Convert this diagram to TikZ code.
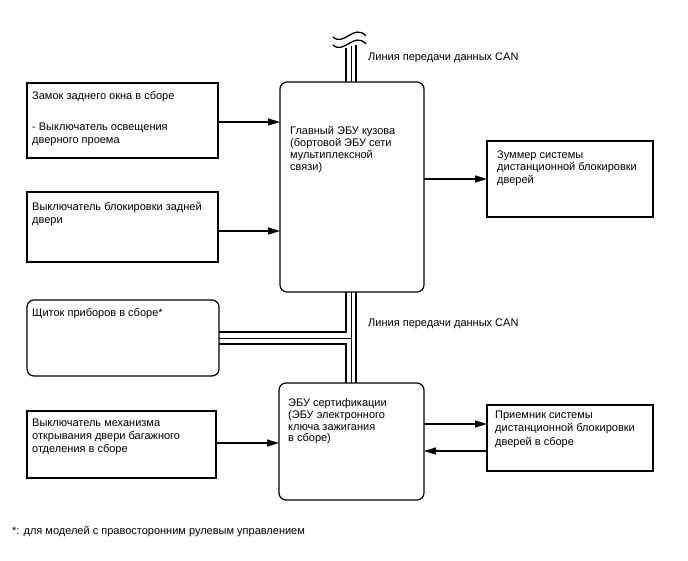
\documentclass[tikz,border=0pt]{standalone}
\usepackage{fontspec}
\setmainfont{Liberation Sans}
\usetikzlibrary{arrows.meta,calc}
\begin{document}
\begin{tikzpicture}[x=1pt,y=-1pt,
  box/.style={draw, line width=1.2pt, anchor=north west, inner sep=0pt, outer sep=0pt},
  rbox/.style={box, rounded corners=7pt},
  txt/.style={anchor=north west, inner sep=0pt, align=left, font=\fontsize{11}{12.6}\selectfont},
  arr/.style={line width=1.1pt, -{Triangle[length=12pt,width=7pt]}},
  tb/.style={line width=2.6pt},
  tn/.style={line width=1pt},
  wave/.style={line width=1.3pt}]
\useasboundingbox (0,0) rectangle (688,560);

% boxes
\node[box, minimum width=191pt, minimum height=75pt] (b1) at (27,83) {};
\node[box, minimum width=191pt, minimum height=70pt] (b2) at (27,192) {};
\node[rbox, minimum width=192pt, minimum height=76pt] (b3) at (27,300) {};
\node[box, minimum width=189pt, minimum height=67pt] (b4) at (27,411) {};
\node[rbox, minimum width=144pt, minimum height=210pt] (e1) at (280,82) {};
\node[rbox, minimum width=145pt, minimum height=117pt] (e2) at (279,383) {};
\node[box, minimum width=166pt, minimum height=76pt] (z) at (487,141) {};
\node[box, minimum width=166pt, minimum height=66pt] (p) at (487,405) {};

% texts
\node[txt, font=\fontsize{11}{13}\selectfont] (t1) at ($(b1.north west)+(5,8.5)$) {Замок заднего окна в сборе\\[18pt]- Выключатель освещения\\дверного проема};
\node[txt, font=\fontsize{11}{13}\selectfont] (t2) at ($(b2.north west)+(5,10.5)$) {Выключатель блокировки задней\\двери};
\node[txt] (t3) at ($(b3.north west)+(5,8.5)$) {Щиток приборов в сборе*};
\node[txt, font=\fontsize{11}{13}\selectfont] (t4) at ($(b4.north west)+(5,7.5)$) {Выключатель механизма\\открывания двери багажного\\отделения в сборе};
\node[txt, font=\fontsize{11}{12}\selectfont] (t5) at ($(e1.north west)+(10,44.5)$) {Главный ЭБУ кузова\\(бортовой ЭБУ сети\\мультиплексной\\связи)};
\node[txt, font=\fontsize{11}{11.7}\selectfont] (t6) at ($(e2.north west)+(9,15.5)$) {ЭБУ сертификации\\(ЭБУ электронного\\ключа зажигания\\в сборе)};
\node[txt] (t7) at ($(z.north west)+(10,9.5)$) {Зуммер системы\\дистанционной блокировки\\дверей};
\node[txt, font=\fontsize{11}{13.4}\selectfont] (t8) at ($(p.north west)+(8,5.5)$) {Приемник системы\\дистанционной блокировки\\дверей в сборе};

% arrows
\draw[arr] ([yshift=-1.5pt]b1.east) -- ([yshift=-1.5pt]b1.east -| e1.west);
\draw[arr] ([yshift=-4pt]b2.east) -- ([yshift=-4pt]b2.east -| e1.west);
\draw[arr] (z.west -| e1.east) -- (z.west);
\draw[arr] ([yshift=1.5pt]b4.east) -- ([yshift=1.5pt]b4.east -| e2.west);
\draw[arr] ([yshift=14pt]p.west -| e2.east) -- ([yshift=14pt]p.west);
\draw[arr] ([yshift=-13pt]p.west) -- ([yshift=-13pt]p.west -| e2.east);

% CAN bus
\coordinate (L) at (346,0);
\coordinate (M) at (351,0);
\coordinate (R) at (356,0);
\coordinate (wt) at (333,37);
\coordinate (wb) at (333,45);
\draw[wave] (wt) .. controls +(11,10) and +(-12,-13) .. +(33,-1);
\draw[wave] (wb) .. controls +(11,10) and +(-12,-13) .. +(33,-1);
\draw[tb] (e1.north -| L) -- ++(0,-34);
\draw[tn] (e1.north -| M) -- ++(0,-36);
\draw[tb] (e1.north -| R) -- ++(0,-37);

\draw[tb] ([yshift=6pt]b3.east) -| (e1.south -| L);
\draw[tb] ([yshift=-6pt]b3.east) -| (e2.north -| L);
\draw[tn] (b3.east) -- (b3.east -| M);
\draw[tn] (e1.south -| M) -- (e2.north -| M);
\draw[tb] (e1.south -| R) -- (e2.north -| R);

\node[txt, anchor=west, font=\fontsize{11}{13}\selectfont] (can1) at (368,58) {Линия передачи данных CAN};
\node[txt, anchor=west, font=\fontsize{11}{13}\selectfont] (can2) at (368,324) {Линия передачи данных CAN};
\node[txt, anchor=west, font=\fontsize{11}{13}\selectfont] (fn) at (12,532) {*: для моделей с правосторонним рулевым управлением};
\end{tikzpicture}
\end{document}
